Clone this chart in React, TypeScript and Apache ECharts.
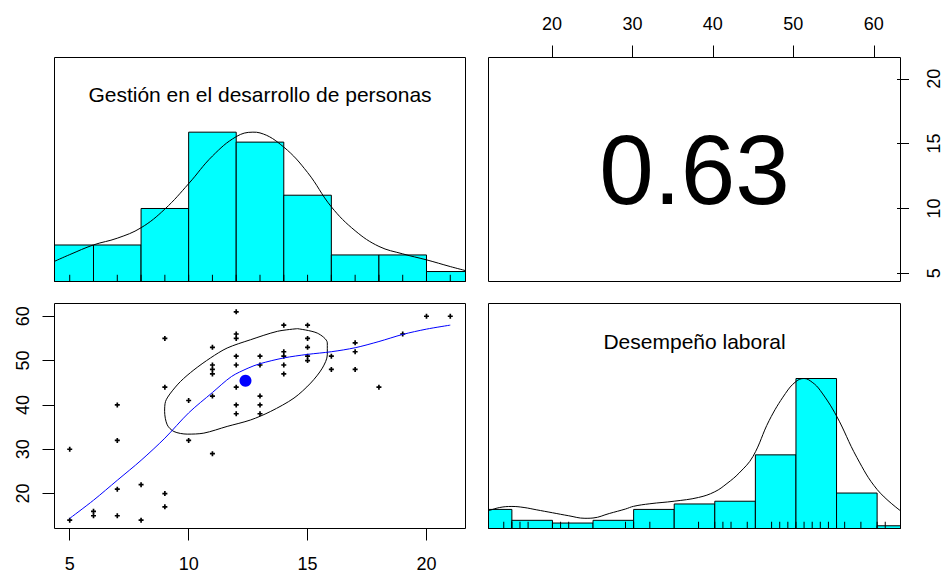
import React, { useEffect, useRef } from "react";
import * as echarts from "echarts";

// ---- data ----
const gestion = [5, 5, 6, 6, 7, 7, 7, 7, 8, 8, 9, 9, 9, 9, 10, 10, 11, 11, 11, 11, 11, 11, 12, 12, 12, 12, 12, 12, 12, 12, 13, 13, 13, 13, 13, 14, 14, 14, 14, 14, 15, 15, 15, 15, 15, 16, 16, 17, 17, 17, 18, 19, 20, 21];
const desempeno = [30, 14, 16, 15, 40, 32, 21, 15, 22, 14, 55, 44, 20, 17, 41, 32, 53, 49, 48, 47, 42, 29, 61, 56, 55, 51, 49, 44, 40, 38, 51, 49, 42, 40, 38, 58, 52, 51, 49, 47, 58, 55, 53, 51, 50, 51, 48, 54, 52, 48, 44, 56, 60, 60];
const meanPoint = [12.39, 45.45];
const correlation = "0.63";
const variableNames = ["Gestión en el desarrollo de personas", "Desempeño laboral"];

const gestionBreaks = [4, 6, 8, 10, 12, 14, 16, 18, 20, 22];
const gestionCounts = [11, 11, 22, 45, 42, 26, 8, 8, 3];
const desempenoBreaks = [10, 15, 20, 25, 30, 35, 40, 45, 50, 55, 60, 65];
const desempenoCounts = [7, 3, 2, 3, 7, 9, 10, 27, 55, 13, 1];

const gestionDensX = [4.36, 5, 6, 7, 8, 9, 10, 11, 12, 12.7, 13, 14, 15, 16, 17, 18, 19, 20, 21, 21.64];
const gestionDensY = [0.135, 0.18, 0.245, 0.29, 0.36, 0.485, 0.655, 0.84, 0.97, 1.0, 0.995, 0.9, 0.73, 0.5, 0.34, 0.235, 0.185, 0.145, 0.1, 0.073];
const desempenoDensX = [12.12, 13.5, 15, 16.5, 18, 20, 22, 24, 25, 27, 29, 30, 32, 35, 38, 40, 41.5, 43, 44.7, 46.7, 48.7, 50, 51, 52, 53, 55, 57.5, 60, 62.88];
const desempenoDensY = [0.118, 0.14, 0.147, 0.14, 0.125, 0.105, 0.085, 0.068, 0.07, 0.1, 0.13, 0.148, 0.165, 0.182, 0.207, 0.245, 0.3, 0.37, 0.48, 0.72, 0.9, 0.98, 1.0, 0.975, 0.92, 0.75, 0.474, 0.26, 0.118];

const loessX = [5, 6, 7, 8, 9, 10, 11, 11.8, 12.5, 13, 14, 15, 16, 17, 18, 19, 20, 21];
const loessY = [14.4, 18.5, 23.0, 27.5, 32.5, 38.2, 42.8, 46.4, 48.3, 49.3, 50.6, 51.4, 52.0, 52.9, 54.3, 55.9, 57.1, 58.0];

const ellipseX = [14.57, 15.41, 15.83, 15.83, 15.62, 15.13, 14.43, 13.45, 12.6, 11.62, 10.64, 9.94, 9.38, 9.1, 8.99, 9.03, 9.24, 9.66, 10.22, 10.92, 11.62, 12.6, 13.73, 14.57];
const ellipseY = [57.2, 56.2, 54.0, 51.3, 48.3, 44.93, 41.55, 38.54, 36.6, 35.15, 33.64, 33.41, 34.0, 35.5, 38.54, 40.8, 42.67, 45.3, 47.9, 50.6, 52.84, 54.7, 56.6, 57.2];

const gestionTicks = [5, 10, 15, 20];
const desempenoTicks = [20, 30, 40, 50, 60];

// ---- layout ----
const FONT = "'Liberation Sans', Arial, sans-serif";
const panels = [
  { left: 54.5, top: 57.5, width: 411, height: 224 },
  { left: 488.5, top: 57.5, width: 412, height: 224 },
  { left: 54.5, top: 303.5, width: 411, height: 225 },
  { left: 488.5, top: 303.5, width: 412, height: 225 },
];

function padRange(v: number[]) {
  const mn = Math.min(...v);
  const mx = Math.max(...v);
  const d = (mx - mn) * 0.04;
  return [mn - d, mx + d];
}

export default function App() {
  const ref = useRef<HTMLDivElement>(null);
  useEffect(() => {
    if (!ref.current) return;
    const chart = echarts.init(ref.current, undefined, { renderer: "svg" });
    const gR = padRange(gestion);
    const dR = padRange(desempeno);

    const histData = (breaks: number[], counts: number[]) => {
      const mx = Math.max(...counts);
      return counts.map((c, i) => [breaks[i], breaks[i + 1], c / mx]);
    };
    const histRender = (params: any, api: any) => {
      const p0 = api.coord([api.value(0), api.value(2)]);
      const p1 = api.coord([api.value(1), 0]);
      const cs = params.coordSys;
      const r = echarts.graphic.clipRectByRect(
        { x: p0[0], y: p0[1], width: p1[0] - p0[0], height: p1[1] - p0[1] },
        { x: cs.x, y: cs.y, width: cs.width, height: cs.height }
      );
      if (!r) return null;
      return { type: "rect", shape: r, style: { fill: "#00FFFF", stroke: "#000", lineWidth: 1 } };
    };
    const rugRender = (tick: number) => (params: any, api: any) => {
      const p = api.coord([api.value(0), 0]);
      return { type: "line", shape: { x1: p[0], y1: p[1], x2: p[0], y2: p[1] - tick }, style: { stroke: "#000", lineWidth: 1 } };
    };
    const uniq = (v: number[]) => Array.from(new Set(v)).sort((a, b) => a - b).map((x) => [x]);

    const hidden = (gridIndex: number, min: number, max: number) => ({ type: "value", gridIndex, min, max, show: false });
    const shown = (gridIndex: number, min: number, max: number, position: string, ticks: number[], rotate: number, margin: number) => ({
      type: "value",
      gridIndex,
      min,
      max,
      position,
      axisLine: { show: false },
      splitLine: { show: false },
      axisTick: { show: true, length: 12, customValues: ticks, lineStyle: { color: "#000", width: 1 } },
      axisLabel: { show: true, customValues: ticks, fontSize: 18, fontFamily: FONT, color: "#000", rotate, margin },
    });

    const plus = "path://M2,0H4V2H6V4H4V6H2V4H0V2H2Z";

    chart.setOption({
      animation: false,
      backgroundColor: "#fff",
      grid: panels.map((p) => ({ ...p, show: false })),
      xAxis: [
        hidden(0, gR[0], gR[1]),
        shown(1, dR[0], dR[1], "top", desempenoTicks, 0, 25),
        shown(2, gR[0], gR[1], "bottom", gestionTicks, 0, 26),
        hidden(3, dR[0], dR[1]),
      ],
      yAxis: [
        hidden(0, 0, 1.5),
        shown(1, gR[0], gR[1], "right", gestionTicks, 90, 28),
        shown(2, dR[0], dR[1], "left", desempenoTicks, 90, 23),
        hidden(3, 0, 1.5),
      ],
      series: [
        { type: "custom", xAxisIndex: 0, yAxisIndex: 0, renderItem: histRender, data: histData(gestionBreaks, gestionCounts), encode: { x: [0, 1], y: 2 }, z: 2 },
        { type: "line", xAxisIndex: 0, yAxisIndex: 0, data: gestionDensX.map((x, i) => [x, gestionDensY[i]]), smooth: 0.4, showSymbol: false, lineStyle: { color: "#000", width: 1 }, z: 3 },
        { type: "custom", xAxisIndex: 0, yAxisIndex: 0, renderItem: rugRender(panels[0].height * 0.03), data: uniq(gestion), encode: { x: 0 }, z: 4 },
        { type: "scatter", xAxisIndex: 2, yAxisIndex: 2, data: gestion.map((x, i) => [x, desempeno[i]]), symbol: plus, symbolSize: 5, itemStyle: { color: "#000", opacity: 1 }, z: 3 },
        { type: "line", xAxisIndex: 2, yAxisIndex: 2, data: ellipseX.map((x, i) => [x, ellipseY[i]]), smooth: 0.3, showSymbol: false, lineStyle: { color: "#000", width: 1 }, z: 4 },
        { type: "line", xAxisIndex: 2, yAxisIndex: 2, data: loessX.map((x, i) => [x, loessY[i]]), smooth: 0.3, showSymbol: false, lineStyle: { color: "#0000FF", width: 1 }, z: 5 },
        { type: "scatter", xAxisIndex: 2, yAxisIndex: 2, data: [meanPoint], symbol: "circle", symbolSize: 12, itemStyle: { color: "#0000FF", opacity: 1 }, z: 6 },
        { type: "custom", xAxisIndex: 3, yAxisIndex: 3, renderItem: histRender, data: histData(desempenoBreaks, desempenoCounts), encode: { x: [0, 1], y: 2 }, z: 2 },
        { type: "line", xAxisIndex: 3, yAxisIndex: 3, data: desempenoDensX.map((x, i) => [x, desempenoDensY[i]]), smooth: 0.4, showSymbol: false, lineStyle: { color: "#000", width: 1 }, z: 3 },
        { type: "custom", xAxisIndex: 3, yAxisIndex: 3, renderItem: rugRender(panels[3].height * 0.03), data: uniq(desempeno), encode: { x: 0 }, z: 4 },
      ],
      graphic: [
        ...panels.map((p) => ({
          type: "rect",
          z: 100,
          silent: true,
          shape: { x: p.left, y: p.top, width: p.width, height: p.height },
          style: { fill: "none", stroke: "#000", lineWidth: 1 },
        })),
        {
          type: "text",
          z: 100,
          x: panels[0].left + panels[0].width / 2,
          y: panels[0].top + panels[0].height * (1 - 0.8333),
          style: { text: variableNames[0], font: `21px ${FONT}`, fill: "#000", align: "center", verticalAlign: "middle" },
        },
        {
          type: "text",
          z: 100,
          x: panels[3].left + panels[3].width / 2,
          y: panels[3].top + panels[3].height * (1 - 0.8333),
          style: { text: variableNames[1], font: `21px ${FONT}`, fill: "#000", align: "center", verticalAlign: "middle" },
        },
        {
          type: "text",
          z: 100,
          x: panels[1].left + panels[1].width / 2,
          y: panels[1].top + panels[1].height / 2,
          style: { text: correlation, font: `98px ${FONT}`, fill: "#000", align: "center", verticalAlign: "middle" },
        },
      ],
    });
    return () => chart.dispose();
  }, []);
  return <div ref={ref} style={{ position: "absolute", left: 0, top: 0, width: 943, height: 573 }} />;
}
